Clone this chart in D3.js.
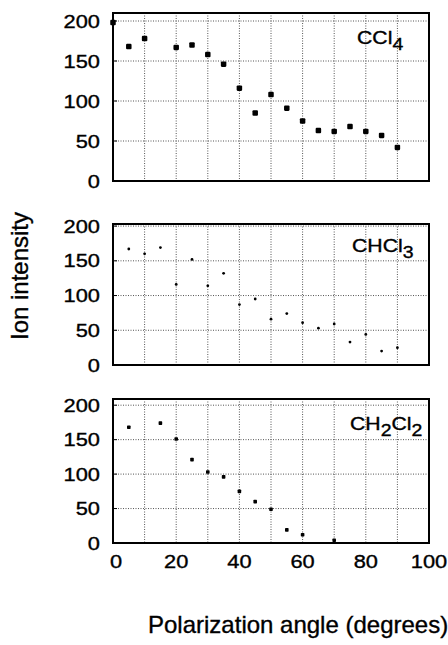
<!DOCTYPE html>
<html>
<head>
<meta charset="utf-8">
<script src="https://cdn.jsdelivr.net/npm/d3@7"></script>
<style>
  body { margin: 0; background: #fff; }
  text { font-family: "Liberation Sans", Arial, Helvetica, sans-serif; fill: #000; stroke: #000; stroke-width: 0.35px; }
</style>
</head>
<body>
<div id="chart"></div>
<script>
(function(d3) {
    'use strict';

    // CCl4
    var anglesCCl4 = [0, 5, 10, 20, 25, 30, 35, 40, 45, 50, 55, 60, 65, 70, 75, 80, 85, 90];
    var valuesCCl4 = [198, 168, 178, 167, 170, 158, 146, 116, 85, 108, 91, 75, 63, 62, 68, 62, 57, 42];

    // CHCl3
    var anglesCHCl3 = [5, 10, 15, 20, 25, 30, 35, 40, 45, 50, 55, 60, 65, 70, 75, 80, 85, 90];
    var valuesCHCl3 = [167, 160, 169, 116, 152, 114, 132, 87, 95, 66, 74, 61, 53, 59, 33, 44, 20, 25];

    // CH2Cl2
    var anglesCH2Cl2 = [5, 15, 20, 25, 30, 35, 40, 45, 50, 55, 60, 70];
    var valuesCH2Cl2 = [168, 174, 151, 121, 103, 96, 75, 60, 49, 19, 12, 4];

    var xTicks = [0, 20, 40, 60, 80, 100];
    var xGrid = [10, 20, 30, 40, 50, 60, 70, 80, 90];
    var yTicks = [0, 50, 100, 150, 200];

    var width = 448,
        height = 645,
        left = 113,
        right = 429;

    var panels = [
        { angles: anglesCCl4, values: valuesCCl4, top: 13, bottom: 181, ymax: 210,
          marker: 'square', size: 5.5, label: [['CCl', 0], ['4', 1]], labelX: 357, labelDy: 31 },
        { angles: anglesCHCl3, values: valuesCHCl3, top: 224, bottom: 365, ymax: 203,
          marker: 'dot', size: 1.4, label: [['CHCl', 0], ['3', 1]], labelX: 352, labelDy: 28 },
        { angles: anglesCH2Cl2, values: valuesCH2Cl2, top: 399, bottom: 543, ymax: 209,
          marker: 'square', size: 3.6, label: [['CH', 0], ['2', 1], ['Cl', 0], ['2', 1]], labelX: 350, labelDy: 31 }
    ];

    var x = d3.scaleLinear().domain([0, 100]).range([left, right]);

    var svg = d3.select('#chart').append('svg')
        .attr('width', width)
        .attr('height', height);

    panels.forEach(function(p, pi) {
        var y = d3.scaleLinear().domain([0, p.ymax]).range([p.bottom, p.top]);
        var g = svg.append('g');

        // grid
        g.selectAll('.vgrid')
            .data(xGrid)
            .enter().append('line')
            .attr('x1', function(d) { return x(d); })
            .attr('x2', function(d) { return x(d); })
            .attr('y1', p.top)
            .attr('y2', p.bottom)
            .attr('stroke', '#555')
            .attr('stroke-width', 1)
            .attr('stroke-dasharray', '1,1.5');

        g.selectAll('.hgrid')
            .data(yTicks.slice(1))
            .enter().append('line')
            .attr('x1', left)
            .attr('x2', right)
            .attr('y1', function(d) { return y(d); })
            .attr('y2', function(d) { return y(d); })
            .attr('stroke', '#555')
            .attr('stroke-width', 1)
            .attr('stroke-dasharray', '1,1.5');

        // left ticks
        g.selectAll('.ytick')
            .data(yTicks.slice(1))
            .enter().append('line')
            .attr('x1', left)
            .attr('x2', left + 4)
            .attr('y1', function(d) { return y(d); })
            .attr('y2', function(d) { return y(d); })
            .attr('stroke', '#000')
            .attr('stroke-width', 1);

        // points
        var pts = p.angles.map(function(a, i) { return [a, p.values[i]]; });
        if (p.marker === 'square') {
            g.selectAll('.pt')
                .data(pts)
                .enter().append('rect')
                .attr('x', function(d) { return x(d[0]) - p.size / 2; })
                .attr('y', function(d) { return y(d[1]) - p.size / 2; })
                .attr('width', p.size)
                .attr('height', p.size)
                .attr('rx', p.size * 0.2)
                .attr('fill', '#000');
        } else {
            g.selectAll('.pt')
                .data(pts)
                .enter().append('circle')
                .attr('cx', function(d) { return x(d[0]); })
                .attr('cy', function(d) { return y(d[1]); })
                .attr('r', p.size)
                .attr('fill', '#000');
        }

        // frame
        g.append('rect')
            .attr('x', left)
            .attr('y', p.top)
            .attr('width', right - left)
            .attr('height', p.bottom - p.top)
            .attr('fill', 'none')
            .attr('stroke', '#000')
            .attr('stroke-width', 2);

        // y tick labels
        g.selectAll('.ylab')
            .data(yTicks)
            .enter().append('text')
            .attr('transform', function(d) {
                return 'translate(' + (left - 13) + ',' + y(d) + ') scale(1.18,1)';
            })
            .attr('dy', '0.36em')
            .attr('text-anchor', 'end')
            .style('font-size', '18.5px')
            .text(function(d) { return d; });

        // panel label
        var lab = g.append('text')
            .attr('transform', 'translate(' + p.labelX + ',' + (p.top + p.labelDy) + ') scale(1.18,1)')
            .style('font-size', '18px');
        var shift = 0;
        p.label.forEach(function(part) {
            var dy = part[1] ? 6 - shift : -shift;
            shift = part[1] ? 6 : 0;
            lab.append('tspan')
                .attr('dy', dy)
                .style('font-size', part[1] ? '16.5px' : null)
                .text(part[0]);
        });

        // x tick labels on the bottom panel
        if (pi === panels.length - 1) {
            g.selectAll('.xlab')
                .data(xTicks)
                .enter().append('text')
                .attr('transform', function(d) {
                    return 'translate(' + (x(d) + (d === 0 ? 3 : 0)) + ',' + (p.bottom + 25) + ') scale(1.18,1)';
                })
                .attr('text-anchor', 'middle')
                .style('font-size', '18.5px')
                .text(function(d) { return d; });
        }
    });

    // axis titles
    svg.append('text')
        .attr('transform', 'translate(28,276) rotate(-90)')
        .attr('text-anchor', 'middle')
        .style('font-size', '24px')
        .text('Ion intensity');

    svg.append('text')
        .attr('x', 148)
        .attr('y', 633)
        .style('font-size', '24px')
        .text('Polarization angle (degrees)');

})(window.d3);
</script>
</body>
</html>
